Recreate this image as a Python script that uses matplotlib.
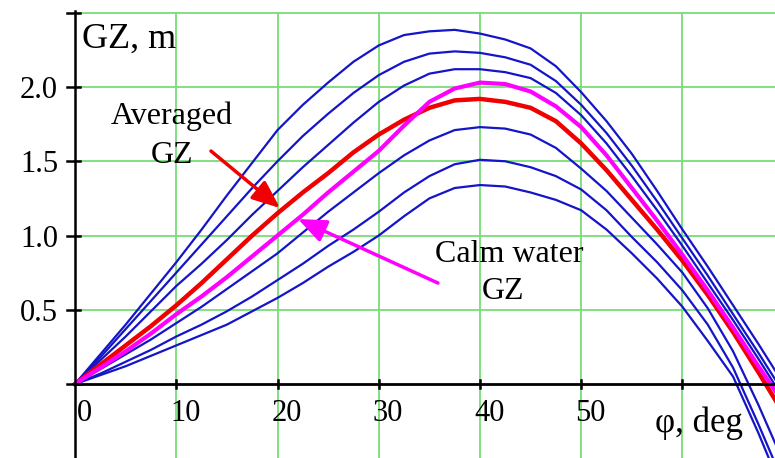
import matplotlib
matplotlib.use("Agg")
import matplotlib.pyplot as plt

# ---- data ----
heel_deg = [0, 2.5, 5, 7.5, 10, 12.5, 15, 17.5, 20, 22.5, 25, 27.5, 30, 32.5, 35,
            37.5, 40, 42.5, 45, 47.5, 50, 52.5, 55, 57.5, 60, 62.5, 65, 67.5, 70]
gz_wave_1 = [0, 0.20, 0.40, 0.61, 0.82, 1.04, 1.27, 1.49, 1.71, 1.88, 2.03, 2.17, 2.28, 2.35, 2.375,
             2.385, 2.36, 2.32, 2.26, 2.14, 1.965, 1.77, 1.55, 1.30, 1.04, 0.79, 0.53, 0.27, 0.00]
gz_wave_2 = [0, 0.18, 0.37, 0.56, 0.75, 0.94, 1.13, 1.32, 1.50, 1.67, 1.82, 1.96, 2.08, 2.17, 2.225,
             2.24, 2.23, 2.20, 2.15, 2.04, 1.88, 1.69, 1.47, 1.23, 0.98, 0.73, 0.47, 0.21, -0.06]
gz_wave_3 = [0, 0.16, 0.32, 0.49, 0.66, 0.81, 0.97, 1.14, 1.30, 1.46, 1.61, 1.76, 1.90, 2.01, 2.09,
             2.12, 2.12, 2.10, 2.06, 1.96, 1.81, 1.62, 1.40, 1.17, 0.93, 0.68, 0.43, 0.17, -0.10]
gz_calm = [0, 0.11, 0.22, 0.34, 0.47, 0.59, 0.72, 0.86, 1.00, 1.14, 1.29, 1.43, 1.57, 1.74, 1.90,
           1.99, 2.03, 2.02, 1.97, 1.87, 1.73, 1.54, 1.32, 1.10, 0.87, 0.63, 0.38, 0.12, -0.13]
gz_avg = [0, 0.13, 0.26, 0.39, 0.53, 0.68, 0.84, 1.00, 1.15, 1.29, 1.42, 1.56, 1.68, 1.78, 1.86,
          1.91, 1.92, 1.90, 1.86, 1.77, 1.62, 1.44, 1.24, 1.04, 0.83, 0.60, 0.35, 0.08, -0.20]
gz_wave_4 = [0, 0.10, 0.20, 0.30, 0.41, 0.52, 0.64, 0.76, 0.88, 1.02, 1.16, 1.29, 1.42, 1.54, 1.64,
             1.71, 1.73, 1.72, 1.68, 1.59, 1.45, 1.30, 1.12, 0.94, 0.75, 0.51, 0.22, -0.14, -0.53]
gz_wave_5 = [0, 0.07, 0.15, 0.23, 0.32, 0.40, 0.49, 0.59, 0.70, 0.81, 0.93, 1.04, 1.16, 1.29, 1.40,
             1.48, 1.51, 1.50, 1.46, 1.40, 1.31, 1.17, 0.99, 0.82, 0.63, 0.40, 0.11, -0.27, -0.67]
gz_wave_6 = [0, 0.06, 0.12, 0.19, 0.26, 0.33, 0.40, 0.49, 0.58, 0.68, 0.79, 0.89, 1.00, 1.13, 1.25,
             1.32, 1.34, 1.33, 1.29, 1.24, 1.17, 1.04, 0.88, 0.71, 0.52, 0.29, 0.05, -0.33, -0.74]

x_ticks = [10, 20, 30, 40, 50, 60]
x_tick_labels = ["10", "20", "30", "40", "50", ""]
y_ticks = [0.5, 1.0, 1.5, 2.0, 2.5]
y_tick_labels = ["0.5", "1.0", "1.5", "2.0", ""]

SERIF = ["Liberation Serif", "DejaVu Serif"]
BLUE = "#1414c8"
GREEN = "#78dc78"

fig = plt.figure(figsize=(7.75, 4.58), dpi=100)
ax = fig.add_axes([0, 0, 1, 1])
ax.set_xlim(-7.41, 69.14)
ax.set_ylim(-0.498, 2.586)
ax.axis("off")

# grid
for xv in x_ticks:
    ax.plot([xv, xv], [-0.6, 2.5], color=GREEN, lw=1.3, zorder=1)
for yv in y_ticks:
    ax.plot([0, 80], [yv, yv], color=GREEN, lw=1.3, zorder=1)

# curves
for gz in (gz_wave_1, gz_wave_2, gz_wave_3, gz_wave_4, gz_wave_5, gz_wave_6):
    ax.plot(heel_deg, gz, color=BLUE, lw=1.6, zorder=3, solid_joinstyle="round")
ax.plot(heel_deg, gz_avg, color="#f00000", lw=3.2, zorder=4, solid_joinstyle="round")
ax.plot(heel_deg, gz_calm, color="#ff00ff", lw=3.0, zorder=5, solid_joinstyle="round")

# axes lines
ax.plot([0, 0], [-0.6, 2.51], color="black", lw=1.8, zorder=6)
ax.plot([0, 80], [0, 0], color="black", lw=2.0, zorder=6)
for yv in [0.0] + y_ticks:
    ax.plot([-0.8, 0.45], [yv, yv], color="black", lw=1.8, zorder=6)
for xv in x_ticks:
    ax.plot([xv, xv], [-0.025, 0.03], color="black", lw=1.8, zorder=6)

# tick labels
for yv, lab in zip(y_ticks, y_tick_labels):
    ax.text(-1.68, yv - 0.074, lab, ha="right", va="baseline",
            fontsize=22, family=SERIF, zorder=7)
ax.text(0.93, -0.249, "0", ha="center", va="baseline", fontsize=22, family=SERIF, zorder=7)
for xv, lab in zip(x_ticks, x_tick_labels):
    ax.text(xv + 0.93, -0.249, lab, ha="center", va="baseline",
            fontsize=22, family=SERIF, zorder=7)

# axis titles
ax.text(0.69, 2.263, "GZ, m", ha="left", va="baseline", fontsize=26, family=SERIF, zorder=7)
ax.text(57.28, -0.323, "φ, deg", ha="left", va="baseline", fontsize=25, family=SERIF, zorder=7)

# annotations
ax.text(9.58, 1.751, "Averaged", ha="center", va="baseline", fontsize=23, family=SERIF, zorder=7)
ax.text(9.58, 1.488, "GZ", ha="center", va="baseline", fontsize=23, family=SERIF, zorder=7)
ax.text(42.86, 0.822, "Calm water", ha="center", va="baseline", fontsize=23, family=SERIF, zorder=7)
ax.text(42.3, 0.572, "GZ", ha="center", va="baseline", fontsize=23, family=SERIF, zorder=7)

ax.annotate("", xy=(20.25, 1.185), xytext=(13.43, 1.569),
            arrowprops=dict(arrowstyle="-|>,head_length=0.85,head_width=0.35",
                            mutation_scale=20, color="#f00000", lw=2.5,
                            shrinkA=0, shrinkB=0), zorder=8)
ax.annotate("", xy=(22.02, 1.111), xytext=(35.85, 0.680),
            arrowprops=dict(arrowstyle="-|>,head_length=0.85,head_width=0.35",
                            mutation_scale=20, color="#ff00ff", lw=2.5,
                            shrinkA=0, shrinkB=0), zorder=8)

fig.savefig("out.png", dpi=100)
